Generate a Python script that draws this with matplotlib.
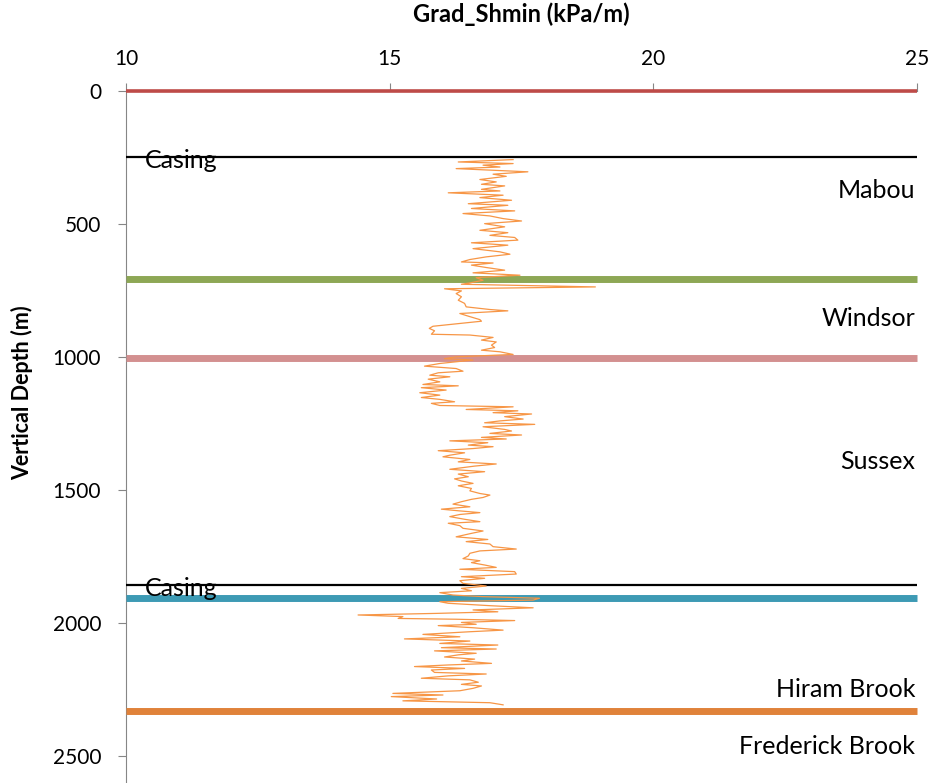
import numpy as np
import matplotlib.pyplot as plt

plt.rcParams['font.family'] = ['Lato', 'DejaVu Sans']

# Grad_Shmin log (kPa/m) vs vertical depth (m)
depth = [258, 267, 273, 279, 286, 292, 304, 313, 321, 333, 342, 351, 357, 370, 376,
         383, 392, 401, 411, 424, 430, 442, 451, 461, 470, 480, 489, 499, 511, 524,
         533, 543, 551, 561, 571, 580, 593, 605, 614, 624, 634,
         643, 647, 655, 664, 674, 684, 693, 702, 712, 722, 727, 737, 744, 752, 762,
         774, 787, 799, 812, 822, 827, 837, 847, 860, 866, 875, 885, 893, 902, 915,
         918, 927, 937, 944, 956, 965, 975, 981, 991, 1000, 1007, 1012, 1025, 1035, 1044,
         1054, 1060, 1069, 1075, 1084, 1094, 1104, 1109, 1116, 1125, 1135, 1144, 1153,
         1160, 1169, 1175, 1183, 1188, 1198, 1203, 1210, 1215, 1225, 1234, 1241, 1248,
         1254, 1263, 1273, 1279, 1288, 1294, 1303, 1309, 1316, 1323, 1332, 1338, 1345,
         1353, 1361, 1370, 1376, 1386, 1395, 1403, 1411, 1423, 1432, 1441, 1451, 1459,
         1467, 1476, 1485, 1495, 1504, 1514, 1520, 1529, 1536, 1545, 1554, 1564, 1573,
         1579, 1586, 1593, 1601, 1611, 1620, 1626, 1635, 1645, 1655, 1664, 1677, 1687,
         1695, 1704, 1714, 1723, 1730, 1739, 1749, 1759, 1767, 1774, 1783, 1792, 1799,
         1808, 1817, 1827, 1833, 1842, 1852, 1862, 1871, 1880, 1887,
         1896, 1902, 1908, 1915, 1921, 1927, 1936, 1944, 1952, 1959, 1965, 1971, 1977,
         1984, 1987, 1992, 1999, 2006, 2011, 2019, 2028, 2034, 2044, 2053, 2061, 2069,
         2078, 2084, 2094, 2099, 2106, 2115, 2121, 2129, 2137, 2144, 2153, 2159, 2165,
         2172, 2178, 2187, 2193, 2200, 2209, 2215, 2224, 2232, 2238, 2247, 2256, 2266,
         2272, 2278, 2287, 2294, 2301, 2309]
grad = [17.34, 16.30, 17.34, 16.77, 17.09, 16.26, 17.62, 16.96, 17.21, 16.71, 17.02, 16.74, 17.18, 16.74, 17.09,
        16.11, 17.15, 16.71, 17.31, 16.49, 17.24, 16.55, 17.37, 16.39, 16.90, 17.15, 17.50, 16.80, 17.18, 16.71,
        17.24, 16.90, 17.37, 17.43, 16.55, 17.24, 16.58, 17.09, 17.28, 16.83, 16.52,
        16.36, 16.96, 16.55, 16.83, 17.18, 16.58, 17.47, 16.64, 16.77, 16.52, 16.36, 18.90, 16.04, 16.36, 16.26,
        16.36, 16.30, 16.42, 16.45, 16.90, 17.24, 16.33, 16.49, 16.71, 16.74, 16.30, 15.82, 15.75, 15.85, 15.79,
        16.52, 16.96, 16.74, 17.02, 16.93, 16.99, 16.74, 17.09, 17.34, 16.26, 16.04, 16.58, 15.95, 15.66, 16.26,
        16.39, 15.92, 15.76, 16.14, 15.73, 15.95, 15.63, 16.30, 15.60, 16.07, 15.57, 15.95, 15.60,
        15.95, 16.23, 15.79, 15.95, 17.34, 16.45, 17.43, 16.96, 17.69, 17.18, 17.53, 17.09, 16.80,
        17.75, 16.77, 17.18, 17.31, 16.90, 17.50, 16.74, 17.21, 16.14, 16.86, 16.49, 16.96, 16.58,
        15.92, 16.42, 16.14, 16.01, 16.52, 16.30, 17.02, 16.61, 16.14, 16.80, 16.30, 16.49, 16.23,
        16.36, 16.58, 16.30, 16.55, 16.52, 16.71, 16.90, 16.77, 16.55, 16.36, 16.20, 16.52, 15.98,
        16.30, 16.71, 16.33, 16.14, 16.42, 16.71, 16.11, 16.33, 16.39, 16.77, 16.55, 16.26, 16.86,
        16.45, 16.90, 16.96, 17.40, 16.71, 16.52, 16.49, 16.39, 16.71, 16.55, 16.80, 17.02, 16.33,
        17.37, 17.40, 16.36, 16.80, 16.33, 16.39, 16.83, 16.36, 16.55, 15.95,
        16.20, 16.77, 17.84, 17.72, 15.95, 16.11, 16.90, 17.72, 16.58, 17.05, 15.89, 14.40, 15.25,
        15.16, 16.26, 17.37, 16.36, 16.64, 15.92, 16.58, 17.15, 16.52, 15.63, 16.33, 15.28, 16.52,
        15.95, 17.05, 15.98, 17.02, 15.85, 16.64, 16.30, 16.04, 16.61, 16.36, 16.93, 16.11, 15.47,
        16.42, 15.79, 15.85, 16.83, 16.11, 15.60, 16.52, 16.68, 16.36, 16.74, 16.58, 16.33, 15.06,
        16.01, 15.03, 15.89, 15.25, 16.90, 17.15]

# formation tops / casing points
tops = [0, 250, 709, 1004, 1858, 1907, 2331]
top_colors = ['#BE4B48', '#000000', '#8DA755', '#D39090', '#000000', '#3D9AB4', '#E0823A']
top_widths = [2.6, 1.6, 5, 5, 1.6, 5, 5]

casing_depths = [250, 1858]
formations = ['Mabou', 'Windsor', 'Sussex', 'Hiram Brook', 'Frederick Brook']
formation_label_depth = [373, 855, 1392, 2253, 2464]

fig = plt.figure(figsize=(9.35, 7.83), dpi=100)
ax = fig.add_axes([0.1348, 0.0, 0.8460, 0.8838])

for d, c, w in zip(tops, top_colors, top_widths):
    ax.axhline(d, color=c, lw=w, zorder=3, clip_on=False, solid_capstyle='butt')

ax.plot(grad, depth, color='#F79646', lw=0.9, zorder=4)

for d in casing_depths:
    ax.text(10.36, d + 12, 'Casing', fontsize=18, va='center', ha='left', zorder=5)
for name, d in zip(formations, formation_label_depth):
    ax.text(24.97, d, name, fontsize=18, va='center', ha='right', zorder=5)

ax.set_xlim(10, 25)
ax.set_ylim(2603, 0)
ax.set_xticks([10, 15, 20, 25])
ax.set_yticks([0, 500, 1000, 1500, 2000, 2500])
ax.xaxis.tick_top()
ax.xaxis.set_label_position('top')
ax.tick_params(axis='x', direction='out', length=6, color='#868686', labelsize=15, pad=10)
ax.tick_params(axis='y', direction='out', length=6, color='#868686', labelsize=15, pad=12)

for s in ['right', 'bottom']:
    ax.spines[s].set_visible(False)
ax.spines['left'].set_color('#868686')
ax.spines['top'].set_color('#868686')

ax.set_xlabel('Grad_Shmin (kPa/m)', fontsize=17, fontweight='bold', labelpad=19)
ax.set_ylabel('Vertical Depth (m)', fontsize=15.5, fontweight='bold')
ax.yaxis.set_label_coords(-0.118, 0.5636)

fig.savefig('out.png', dpi=100)
